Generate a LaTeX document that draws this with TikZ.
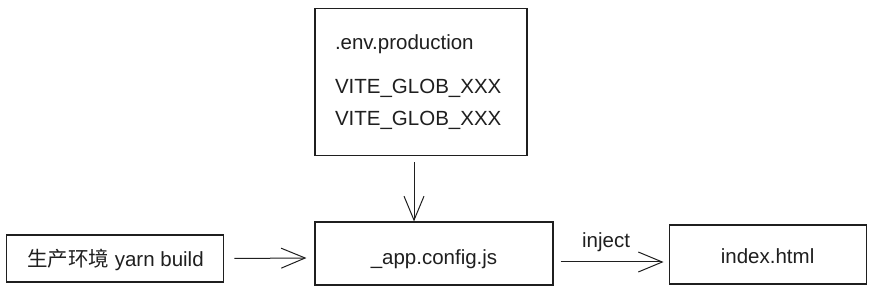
\documentclass[tikz,border=0pt]{standalone}
\usepackage{fontspec}
\setmainfont{Liberation Sans}
\newfontfamily\cjk{Noto Sans CJK SC}
\usetikzlibrary{positioning,arrows.meta}

\begin{document}
\begin{tikzpicture}[x=1pt, y=-1pt,
    font=\fontsize{20.5}{25}\selectfont, text=black!88,
    box/.style={draw=black!88, line width=1.1pt, fill=white},
    arr/.style={draw=black!88, line width=1pt, -{Straight Barb[length=24pt,width=20pt,line width=1pt]}}]

  \useasboundingbox (0,0) rectangle (879,296);

  \node[box, minimum width=238pt, minimum height=63pt, text height=22pt, text depth=0pt] (app) at (434,253.5) {\_app.config.js};
  \node[box, minimum width=212pt, minimum height=147pt, inner xsep=20pt, text width=172pt, align=left,
        above = 65pt of app, xshift=-13pt] (env)
        {.env.production\\[19pt] VITE\_GLOB\_XXX\\[7pt] VITE\_GLOB\_XXX};
  \node[box, minimum width=217pt, minimum height=47pt, text depth=1pt, left = 90pt of app, yshift=-5pt] (build)
        {{\cjk 生产环境} yarn build};
  \node[box, minimum width=197pt, minimum height=59pt, text height=18pt, text depth=0pt, right = 115pt of app, yshift=-1pt] (index) {index.html};

  \draw[arr] ([xshift=-7pt,yshift=-6pt]env.south) -- ([xshift=-20pt]app.north);
  \draw[arr] ([xshift=10pt]build.east) -- ([xshift=-8pt,yshift=-4.5pt]app.west);
  \draw[arr] ([xshift=7pt,yshift=-8.5pt]app.east) -- node[above=6pt, xshift=-6pt] {inject} ([xshift=-5pt,yshift=-7.5pt]index.west);

\end{tikzpicture}
\end{document}
